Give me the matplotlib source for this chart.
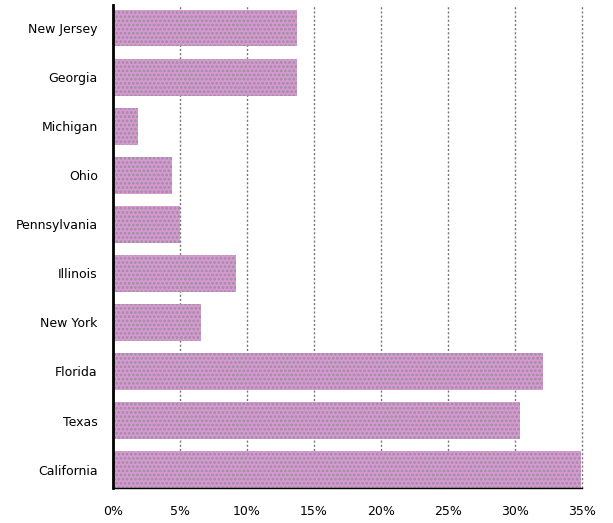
import numpy as np
import matplotlib.pyplot as plt

plt.rcParams['font.family'] = ['DejaVu Sans']
plt.rcParams['hatch.linewidth'] = 1.3

states = ['California', 'Texas', 'Florida', 'New York', 'Illinois',
          'Pennsylvania', 'Ohio', 'Michigan', 'Georgia', 'New Jersey']
share = [34.9, 30.4, 32.1, 6.6, 9.2, 5.0, 4.4, 1.9, 13.7, 13.7]
ticks = [0, 5, 10, 15, 20, 25, 30, 35]
tick_labels = ['0%', '5%', '10%', '15%', '20%', '25%', '30%', '35%']

fig = plt.figure(figsize=(6.13, 5.23), dpi=100)
ax = fig.add_axes([113/613, 35/523, (582-113)/613, (518-35)/523])

y = np.arange(len(states))
ax.barh(y, share, height=0.75, color='#d898d4', edgecolor='#989098',
        hatch='....', linewidth=0, zorder=2)

ax.set_xlim(0, 35)
ax.set_ylim(-0.375, 9.47)
ax.set_xticks(ticks)
ax.set_xticklabels(tick_labels, fontsize=9)
ax.set_yticks(y)
ax.set_yticklabels(states, fontsize=9)
ax.tick_params(length=0, pad=12)
ax.tick_params(axis='y', pad=11)

# dotted vertical gridlines, including the one at the right edge
for t in ticks[1:]:
    ax.axvline(t, color='#777777', linestyle=(0, (1.5, 1.5)), linewidth=1,
               zorder=1, clip_on=False)
for s in ['top', 'right']:
    ax.spines[s].set_visible(False)
ax.spines['left'].set_linewidth(2)
ax.spines['bottom'].set_linewidth(1)

fig.savefig('out.png', dpi=100)
